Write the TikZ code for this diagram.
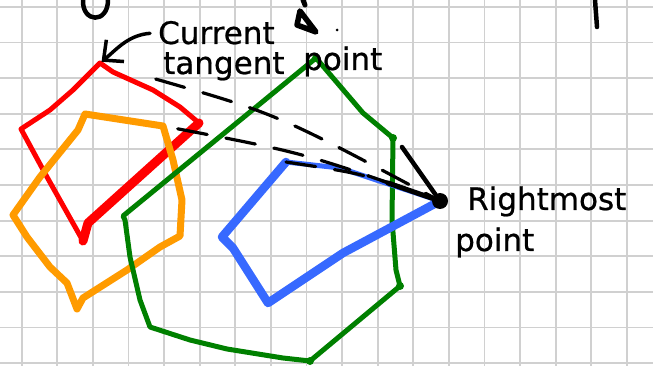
\documentclass[tikz,border=0pt]{standalone}
\usepackage{fontspec}
\newfontfamily\handfont{DejaVu Sans}[FakeBold=0.7]
\usetikzlibrary{positioning,arrows.meta}
\definecolor{InkRed}{RGB}{255,0,0}
\definecolor{InkOrange}{RGB}{255,155,0}
\definecolor{InkGreen}{RGB}{0,128,0}
\definecolor{InkBlue}{RGB}{55,105,255}
\definecolor{GridGray}{RGB}{208,208,208}

\begin{document}
\begin{tikzpicture}[x=1pt,y=-1pt,line cap=round,line join=round,
  hand/.style={font=\handfont\fontsize{31}{31}\selectfont,inner sep=0pt,anchor=base west},
  tangentline/.style={black,line width=3.2pt,dash pattern=on 30pt off 19pt},
  pen/.style={black,line width=#1}]
\useasboundingbox (0,0) rectangle (653,366);
\fill[white] (0,0) rectangle (653,366);
% grid paper
\foreach \gx in {0,...,17}
  \draw[GridGray,line width=1.8pt] ({21.7+35.6*\gx},0) -- ++(0,366);
\foreach \gy in {0,...,10}
  \draw[GridGray,line width=1.8pt] (0,{7+35.6*\gy}) -- ++(653,0);
% cut-off strokes at the top
\draw[pen=4.5pt] (83,0) .. controls (82,23) and (108,24) .. (108,0);
\draw[pen=5pt] (303,0) -- (305,5);
\draw[pen=5.5pt] (300,11) -- (297,25) -- (316,32) -- cycle;
\fill (337,30) circle (1.5);
\draw[pen=4.5pt] (595,0) -- (597,27);
% polygons
\draw[InkRed,line width=5pt] (100,63) -- (113,72) -- (153,90) -- (180,107) -- (199,123)
  -- (88,223) -- (83,241) -- (47,177) -- (21,129) -- (50,110) -- (73,90) -- cycle;
\draw[InkRed,line width=9pt] (199,123) -- (88,223) -- (83,241);
\draw[InkOrange,line width=7pt] (85,114) -- (163,126) -- (173,160) -- (182,200) -- (180,236)
  -- (160,247) -- (127,270) -- (83,298) -- (77,309) -- (67,283) -- (50,267) -- (27,237)
  -- (13,215) -- (40,177) -- (78,130) -- cycle;
\draw[InkGreen,line width=5pt] (123,216) -- (316,58) -- (363,113) -- (393,138) -- (392,220)
  -- (396,270) -- (400,286) -- (310,361) -- (283,358) -- (227,349) -- (190,340) -- (150,327)
  -- (140,300) -- (130,257) -- (125,220) -- cycle;
\foreach \p in {(316,58),(393,138),(400,286),(310,361)}
  \fill[InkGreen] \p circle (4);
\draw[InkBlue,line width=5pt] (286,162) -- (340,168) -- (440,201);
\draw[InkBlue,line width=8.5pt] (440,201) -- (343,253) -- (268,303) -- (233,248) -- (222,237) -- (286,162);
% points
\coordinate (redtop) at (100,63);
\coordinate (orangetip) at (163,126);
\coordinate (bluetip) at (286,162);
\coordinate (tick) at (402,147);
\node[circle,fill=black,inner sep=0pt,minimum size=16pt] (rightmost) at (440,201) {};
% tangent lines
\draw[tangentline,shorten <=58pt] (redtop) .. controls (277,114) .. (rightmost);
\draw[tangentline,shorten <=15pt] (orangetip) .. controls (304,153) .. (rightmost);
\draw[tangentline] (bluetip) .. controls (365,174) .. (rightmost);
\draw[pen=4.5pt] (tick) -- (rightmost);
\draw[pen=5pt] (388,183) -- (rightmost);
% labels
\node[hand] (cur) at (158,44) {Current};
\node[hand] (tan) at (163,74) {tangent};
\node[hand] (pt1) at (303,70) {point};
\node[hand] (rm) at (467,210) {Rightmost};
\node[hand] (pt2) at (455,251) {point};
\draw[pen=3.5pt,-{Straight Barb[length=15pt,width=28pt]},shorten <=8pt,shorten >=2pt]
  (cur.west) .. controls (128,35) and (116,50) .. (redtop);
\end{tikzpicture}
\end{document}
